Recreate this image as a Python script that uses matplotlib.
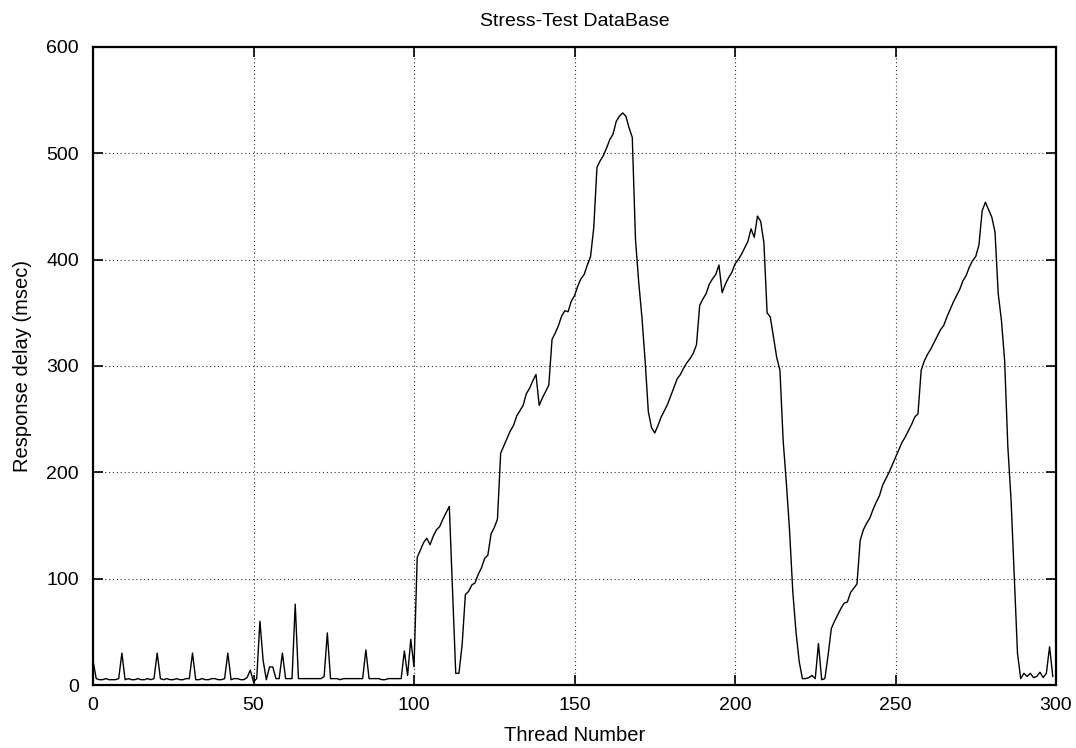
import matplotlib
matplotlib.use("Agg")
import matplotlib.pyplot as plt
import numpy as np

plt.rcParams['font.family'] = ['Liberation Sans', 'DejaVu Sans']

# response delay per thread (msec), threads 0..299
delay_0_99 = [
    23, 6, 5, 5, 6, 5, 5, 5, 6, 30,
    5, 6, 5, 5, 6, 5, 5, 6, 5, 6,
    30, 6, 5, 6, 5, 5, 6, 5, 5, 6,
    6, 30, 5, 5, 6, 5, 5, 6, 6, 5,
    5, 6, 30, 5, 6, 6, 5, 5, 7, 14,
    3, 6, 60, 23, 5, 17, 17, 6, 6, 30,
    6, 6, 6, 76, 6, 6, 6, 6, 6, 6,
    6, 6, 8, 49, 6, 6, 6, 5, 6, 6,
    6, 6, 6, 6, 6, 33, 6, 6, 6, 6,
    5, 5, 6, 6, 6, 6, 6, 32, 9, 43,
]
delay_100_199 = [
    17, 120, 127, 134, 138, 132, 140, 146, 149, 156,
    162, 168, 90, 11, 11, 38, 85, 88, 94, 96,
    104, 110, 119, 122, 142, 148, 156, 218, 225, 232,
    239, 244, 253, 258, 263, 274, 279, 286, 292, 263,
    270, 276, 282, 325, 331, 338, 347, 352, 351, 361,
    366, 375, 382, 386, 395, 403, 430, 487, 493, 498,
    505, 513, 518, 530, 535, 538, 535, 524, 515, 419,
    379, 346, 305, 257, 242, 237, 244, 252, 258, 264,
    272, 280, 288, 292, 298, 303, 307, 312, 320, 357,
    363, 368, 377, 382, 386, 395, 369, 377, 383, 388,
]
delay_200_299 = [
    396, 400, 405, 411, 417, 429, 421, 441, 436, 416,
    350, 346, 327, 308, 296, 230, 190, 145, 88, 50,
    22, 6, 6, 7, 9, 6, 39, 5, 6, 28,
    53, 60, 66, 72, 77, 78, 87, 91, 95, 136,
    146, 152, 157, 165, 172, 178, 188, 194, 200, 207,
    214, 221, 228, 233, 239, 245, 252, 255, 296, 305,
    311, 316, 322, 328, 334, 338, 346, 353, 360, 366,
    372, 380, 385, 393, 399, 403, 414, 446, 454, 447,
    440, 426, 368, 343, 305, 224, 174, 102, 30, 6,
    11, 8, 11, 7, 8, 12, 7, 11, 36, 8,
]
delay = delay_0_99 + delay_100_199 + delay_200_299
threads = np.arange(len(delay))

fig = plt.figure(figsize=(10.76, 7.48), dpi=100)
ax = fig.add_axes([93/1076, 1 - 685/748, (1056 - 93)/1076, (685 - 47)/748])

ax.plot(threads, delay, color='black', lw=1.0)

ax.set_xlim(0, 300)
ax.set_ylim(0, 600)
ax.set_xticks(np.arange(0, 301, 50))
ax.set_yticks(np.arange(0, 601, 100))
ax.grid(True, color='0.2', linestyle=(0, (1, 2.5)), lw=0.8)
ax.tick_params(direction='in', length=7, width=1.2, top=True, right=True,
               labelsize=14)
ax.tick_params(axis='x', pad=9)
ax.tick_params(axis='y', pad=10)
for s in ax.spines.values():
    s.set_linewidth(1.6)

ax.set_title("Stress-Test DataBase", fontsize=14, pad=15)
ax.set_xlabel("Thread Number", fontsize=14.5, labelpad=8)
ax.set_ylabel("Response delay (msec)", fontsize=14.5, labelpad=10)

fig.savefig("out.png", dpi=100)
